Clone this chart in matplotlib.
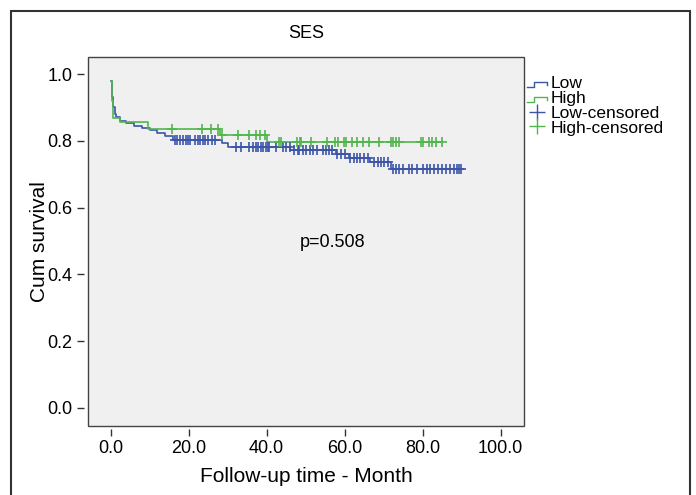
import numpy as np
import matplotlib
matplotlib.use("Agg")
import matplotlib.pyplot as plt
from matplotlib.lines import Line2D
from matplotlib.patches import Rectangle
from matplotlib.legend_handler import HandlerBase

plt.rcParams['font.family'] = ['Liberation Sans', 'DejaVu Sans']

# ---- data ----
low_times = [0, 0.3, 0.6, 1.0, 1.5, 2.5, 4, 6, 8, 10, 12, 14, 16, 28.5, 30, 46, 57.8, 61, 66.5, 72]
low_surv = [0.98, 0.93, 0.90, 0.88, 0.87, 0.86, 0.852, 0.845, 0.838, 0.832, 0.822, 0.814, 0.803,
            0.792, 0.781, 0.772, 0.762, 0.749, 0.736, 0.715]
low_end = 89.8
low_censor = [16.4, 17.0, 17.7, 18.5, 19.3, 19.8, 20.4, 21.6, 22.3, 22.8, 23.6, 24.1, 24.9, 25.9, 26.7,
              32.2, 33.5, 35.6, 36.5, 37.3, 37.7, 38.6, 39.0, 39.9, 40.3, 40.7, 42.5, 44.1, 45.0, 45.9,
              47.1, 48.0, 48.4, 49.3, 50.0, 51.2, 52.0, 53.0, 54.5, 55.3, 56.0, 56.8, 58.0, 59.0, 60.0,
              61.5, 62.5, 63.3, 64.0, 65.0, 66.0, 67.5, 68.5, 69.3, 70.0, 71.0, 72.5, 73.2, 74.0, 75.0,
              76.5, 77.3, 78.5, 80.0, 81.0, 82.0, 83.0, 84.0, 85.0, 86.0, 87.0, 88.0, 88.7, 89.3, 89.8]

high_times = [0, 0.3, 0.6, 2.4, 9.5, 28, 40]
high_surv = [0.98, 0.92, 0.868, 0.857, 0.836, 0.818, 0.797]
high_end = 84.9
high_censor = [15.7, 23.4, 25.7, 27.6, 28.5, 32.6, 35.6, 37.3, 38.2, 39.5, 43.3, 43.8, 47.9, 48.6,
               48.8, 51.4, 55.5, 57.6, 58.2, 59.9, 60.3, 61.9, 63.3, 64.6, 66.3, 68.7, 71.9, 72.5,
               73.1, 74.0, 79.5, 80.0, 81.7, 82.5, 83.4, 84.9]

xticks = [0, 20, 40, 60, 80, 100]
yticks = [0.0, 0.2, 0.4, 0.6, 0.8, 1.0]

blue = '#3d55a8'
green = '#52b54e'

def surv_at(times, surv, t):
    idx = np.searchsorted(times, t, side='right') - 1
    return np.asarray(surv)[idx]

fig = plt.figure(figsize=(6.96, 4.95), dpi=100)
ax = fig.add_axes([88/696, 1-426/495, (524-88)/696, (426-57)/495])
ax.set_facecolor('#f0f0f0')

for times, surv, end, cens, col in [(low_times, low_surv, low_end, low_censor, blue),
                                    (high_times, high_surv, high_end, high_censor, green)]:
    x = list(times) + [end]
    y = list(surv) + [surv[-1]]
    ax.step(x, y, where='post', color=col, lw=1.2, zorder=3)
    cy = [surv_at(times, surv, t) for t in cens]
    ax.plot(cens, cy, ls='none', marker='+', ms=7, mew=1.2, color=col, zorder=4)

ax.text(57, 0.497, 'p=0.508', ha='center', va='center', fontsize=13)

ax.set_xlim(-5.8, 106)
ax.set_ylim(-0.054, 1.051)
ax.tick_params(direction='out', length=5, width=1, color='#333333', pad=3, labelsize=13)
ax.set_xticks(xticks)
ax.set_xticklabels([f'{v:.1f}' for v in xticks])
ax.set_yticks(yticks)
ax.set_yticklabels([f'{v:.1f}' for v in yticks])
for s in ['top', 'right']:
    ax.spines[s].set_visible(False)
ax.spines['bottom'].set_position(('outward', 2))
ax.spines['left'].set_position(('outward', 3))
ax.spines['bottom'].set_color('none')
ax.spines['left'].set_color('none')
ax.add_patch(Rectangle((0, 0), 1, 1, transform=ax.transAxes, fill=False,
                       ec='#444444', lw=1.0, zorder=5, clip_on=False))

ax.set_xlabel('Follow-up time - Month', fontsize=15, labelpad=7)
ax.set_ylabel('Cum survival', fontsize=15, labelpad=-1)
ax.set_title('SES', fontsize=13, pad=14)

# outer frame
fig.patches.append(Rectangle((11/696, -0.05), (690-11)/696, 1-11/495+0.05,
                             transform=fig.transFigure, fill=False, ec='#333333', lw=1.5))

class StepHandler(HandlerBase):
    def create_artists(self, legend, orig_handle, xdescent, ydescent, width, height, fontsize, trans):
        xs = np.array([0, 0.35, 0.35, 1.0, 1.0]) * width - xdescent
        ys = np.array([0.1, 0.1, 0.5, 0.5, 0.25]) * height - ydescent
        ln = Line2D(xs, ys, color=orig_handle.get_color(), lw=1.0, transform=trans)
        return [ln]

h_low = Line2D([], [], color=blue)
h_high = Line2D([], [], color=green)
h_lc = Line2D([], [], color=blue, ls='none', marker='+', ms=11, mew=1.0)
h_hc = Line2D([], [], color=green, ls='none', marker='+', ms=11, mew=1.0)
fig.legend([h_low, h_high, h_lc, h_hc], ['Low', 'High', 'Low-censored', 'High-censored'],
           handler_map={h_low: StepHandler(), h_high: StepHandler()},
           loc='upper left', bbox_to_anchor=(527/696, 1-76/495), frameon=False,
           fontsize=12.5, labelspacing=-0.02, handlelength=1.15, handletextpad=0.2,
           borderpad=0, borderaxespad=0)

fig.savefig('out.png', dpi=100)
